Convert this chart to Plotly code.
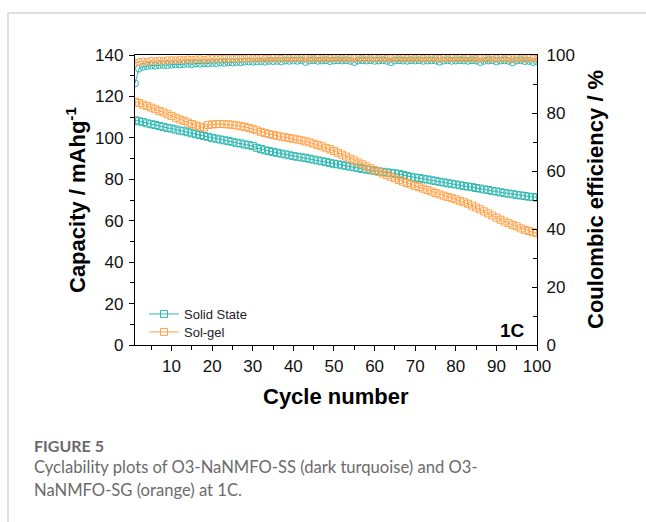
import plotly.graph_objects as go

# Cycle index
cycles = list(range(1, 101))

# Discharge capacity (mAh/g)
cap_solid_state = [
    108.5, 108.0, 107.6, 107.0, 106.6, 106.2, 105.7, 105.3, 104.8, 104.5,
    104.0, 103.5, 103.2, 102.7, 102.2, 101.8, 101.3, 100.9, 100.5, 100.0,
    99.6, 99.2, 98.8, 98.5, 98.1, 97.6, 97.3, 96.8, 96.5, 96.0,
    95.2, 94.6, 94.0, 93.6, 93.2, 92.8, 92.4, 92.0, 91.6, 91.2,
    90.9, 90.6, 90.3, 89.9, 89.5, 89.1, 88.7, 88.3, 87.9, 87.5,
    87.2, 86.8, 86.5, 86.1, 85.8, 85.4, 85.0, 84.7, 84.4, 84.1,
    83.8, 83.6, 83.3, 83.1, 82.8, 82.6, 82.1, 81.6, 81.2, 80.8,
    80.6, 80.2, 79.9, 79.5, 79.2, 78.8, 78.5, 78.1, 77.8, 77.5,
    77.1, 76.8, 76.5, 76.2, 75.8, 75.5, 75.1, 74.8, 74.4, 74.1,
    73.7, 73.4, 73.1, 72.8, 72.5, 72.2, 71.9, 71.6, 71.4, 71.2,
]
cap_sol_gel = [
    117.5, 116.8, 116.0, 115.3, 114.6, 113.8, 113.0, 112.3, 111.4, 110.6,
    109.7, 108.9, 108.2, 107.4, 106.7, 106.0, 105.4, 105.0, 106.2, 106.5,
    106.6, 106.7, 106.6, 106.5, 106.3, 106.0, 105.6, 105.3, 104.8, 104.2,
    103.6, 102.9, 102.3, 101.8, 101.4, 101.0, 100.6, 100.3, 99.9, 99.6,
    99.2, 98.8, 98.3, 97.8, 97.2, 96.6, 95.9, 95.2, 94.5, 93.7,
    92.8, 91.9, 91.0, 90.0, 89.1, 88.1, 87.2, 86.2, 85.3, 84.4,
    83.6, 82.8, 82.0, 81.2, 80.4, 79.6, 78.9, 78.2, 77.5, 76.8,
    76.2, 75.5, 74.8, 74.1, 73.4, 72.7, 72.1, 71.5, 70.9, 70.3,
    69.6, 68.9, 68.2, 67.3, 66.4, 65.5, 64.5, 63.5, 62.5, 61.5,
    60.5, 59.6, 58.8, 58.0, 57.3, 56.3, 55.6, 55.0, 54.4, 54.0,
]

# Coulombic efficiency (%)
ce_solid_state = [
    90.2, 95.3, 95.9, 96.2, 96.4, 96.3, 96.5, 96.6, 96.5, 96.7,
    96.8, 96.7, 96.9, 97.0, 96.8, 97.1, 97.0, 97.2, 97.1, 97.3,
    97.2, 97.4, 97.3, 97.5, 97.4, 97.6, 97.5, 97.7, 97.8, 97.7,
    97.8, 97.9, 97.7, 98.0, 97.9, 98.0, 97.8, 98.1, 98.0, 98.1,
    98.0, 98.2, 97.6, 98.1, 98.2, 98.0, 98.1, 98.2, 97.9, 98.1,
    98.2, 98.1, 98.2, 98.0, 97.6, 98.1, 98.2, 98.1, 98.2, 98.0,
    98.1, 98.2, 98.0, 97.5, 98.1, 98.2, 98.1, 98.0, 98.2, 98.1,
    98.2, 98.0, 98.1, 98.2, 98.1, 97.7, 98.1, 98.2, 98.0, 98.1,
    98.2, 98.1, 98.0, 98.2, 98.1, 97.6, 98.0, 98.1, 98.2, 97.8,
    98.1, 98.2, 98.0, 97.5, 98.1, 98.2, 97.9, 98.0, 97.6, 97.8,
]
ce_sol_gel = [
    97.3, 97.6, 97.8, 97.7, 98.0, 97.9, 98.1, 98.0, 98.2, 98.3,
    98.2, 98.4, 98.3, 98.5, 98.4, 98.5, 98.6, 98.4, 98.6, 98.7,
    98.6, 98.7, 98.8, 98.6, 98.7, 98.8, 98.7, 98.8, 98.9, 98.8,
    98.8, 98.9, 98.7, 98.8, 98.9, 98.8, 98.7, 98.9, 98.8, 98.9,
    98.8, 98.9, 98.9, 98.8, 98.7, 98.9, 98.8, 98.9, 98.8, 98.9,
    98.9, 98.8, 98.9, 98.8, 98.9, 98.9, 98.8, 98.9, 98.8, 98.9,
    98.8, 98.9, 98.8, 98.9, 98.9, 98.8, 98.9, 98.8, 98.9, 98.8,
    98.9, 98.8, 98.9, 98.9, 98.8, 98.7, 98.9, 98.8, 98.9, 98.8,
    98.9, 98.8, 98.9, 98.8, 98.7, 98.9, 98.8, 98.6, 98.9, 98.8,
    98.9, 98.7, 98.8, 98.5, 98.9, 98.8, 98.6, 98.9, 98.8, 98.7,
]

series_names = ["Solid State", "Sol-gel"]
TEAL = "#2fb8b2"
ORANGE = "#ffa24a"

W, H = 646, 522
L, R, T, B = 135, 109, 55, 177
PW, PH = W - L - R, H - T - B


def px(x):
    return (x - L) / PW


def py(y):
    return (H - B - y) / PH


SANS = "Arial, Liberation Sans, sans-serif"
AX_FONT = dict(family=SANS, size=17, color="#111111")
LEG_FONT = dict(family=SANS, size=13, color="#222222")

fig = go.Figure()

for name, cap, color, leg in [(series_names[0], cap_solid_state, TEAL, "legend"),
                              (series_names[1], cap_sol_gel, ORANGE, "legend2")]:
    fig.add_trace(go.Scatter(
        x=cycles, y=cap, name=name, mode="lines+markers", legend=leg,
        line=dict(color=color, width=1),
        marker=dict(symbol="square-open", size=7, color=color, line=dict(width=1)),
    ))

for cap_name, ce, color in [(series_names[0], ce_solid_state, TEAL),
                            (series_names[1], ce_sol_gel, ORANGE)]:
    fig.add_trace(go.Scatter(
        x=cycles, y=ce, name=cap_name + " CE", mode="lines+markers", yaxis="y2",
        showlegend=False,
        line=dict(color=color, width=1),
        marker=dict(symbol="circle-open", size=7, color=color, line=dict(width=1)),
    ))

axis_common = dict(
    showline=True, linecolor="black", linewidth=1.3, showgrid=False, zeroline=False,
    tickfont=AX_FONT, tickcolor="black", ticklen=5, tickwidth=1.3,
)

legend_common = dict(xanchor="left", yanchor="middle", bgcolor="rgba(0,0,0,0)",
                     itemwidth=30, font=LEG_FONT)

fig.update_layout(
    width=W, height=H,
    margin=dict(l=L, r=R, t=T, b=B),
    paper_bgcolor="white", plot_bgcolor="white",
    xaxis=dict(range=[1, 100], dtick=10, tick0=0, ticks="outside", mirror=True,
               minor=dict(dtick=5, ticks="outside", ticklen=4, tickcolor="black"),
               **axis_common),
    yaxis=dict(range=[0, 140], dtick=20, ticks="outside", mirror=True, ticklabelstandoff=2,
               minor=dict(dtick=10, ticks="outside", ticklen=4, tickcolor="black"),
               **axis_common),
    yaxis2=dict(range=[0, 100], dtick=20, ticks="inside", overlaying="y", side="right",
                ticklabelstandoff=5,
                minor=dict(dtick=10, ticks="inside", ticklen=4, tickcolor="black"),
                **axis_common),
    showlegend=True,
    legend=dict(x=px(144), y=py(314), **legend_common),
    legend2=dict(x=px(144), y=py(332), **legend_common),
)

TITLE_FONT = dict(family=SANS, size=22, color="black")
CAP_FONT = dict(family="Lato, Open Sans, sans-serif", size=16.6, color="#6b6b6b")
annotations = [
    dict(text="<b>Cycle number</b>", x=0.5, y=py(396), xref="paper", yref="paper",
         showarrow=False, font=TITLE_FONT, xanchor="center", yanchor="middle"),
    dict(text="<b>Capacity / mAhg<sup>-1</sup></b>", x=px(76), y=0.5, xref="paper", yref="paper",
         showarrow=False, font=TITLE_FONT, textangle=-90, xanchor="center", yanchor="middle"),
    dict(text="<b>Coulombic efficiency / %</b>", x=px(595), y=0.5, xref="paper", yref="paper",
         showarrow=False, font=TITLE_FONT, textangle=-90, xanchor="center", yanchor="middle"),
    dict(text="<b>1C</b>", x=px(527), y=py(330), xref="paper", yref="paper",
         showarrow=False, xanchor="right", yanchor="middle",
         font=dict(family=SANS, size=19, color="black")),
    dict(text="<b>FIGURE 5</b>", x=px(32), y=py(445), xref="paper", yref="paper",
         showarrow=False, xanchor="left", yanchor="middle",
         font=dict(family="Lato, Open Sans, sans-serif", size=16, color="#6b6b6b")),
    dict(text="Cyclability plots of O3-NaNMFO-SS (dark turquoise) and O3-",
         x=px(32), y=py(467), xref="paper", yref="paper",
         showarrow=False, xanchor="left", yanchor="middle", font=CAP_FONT),
    dict(text="NaNMFO-SG (orange) at 1C.",
         x=px(32), y=py(490), xref="paper", yref="paper",
         showarrow=False, xanchor="left", yanchor="middle", font=CAP_FONT),
]
fig.update_layout(annotations=annotations)

# card border (top and left edges)
fig.add_shape(type="line", xref="paper", yref="paper",
              x0=px(8), y0=py(13), x1=px(646), y1=py(13),
              line=dict(color="#d4d4d4", width=1.5))
fig.add_shape(type="line", xref="paper", yref="paper",
              x0=px(8), y0=py(13), x1=px(8), y1=py(522),
              line=dict(color="#d4d4d4", width=1.5))

fig.write_html("out.html")
